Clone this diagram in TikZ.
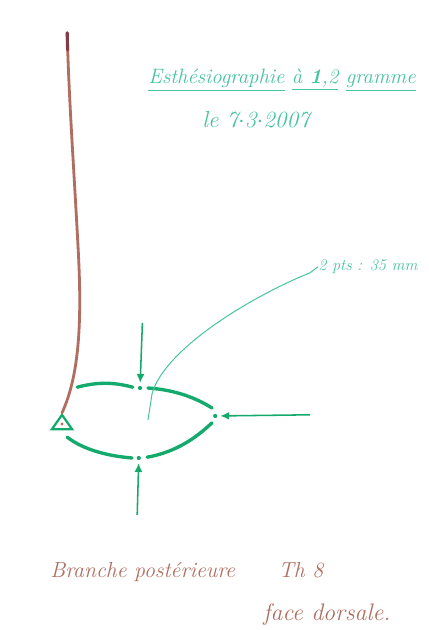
\documentclass[tikz,border=0pt]{standalone}
\usepackage{tikz}
\usetikzlibrary{arrows.meta, positioning, calc, shapes.geometric}

\definecolor{inkgreen}{RGB}{20,170,110}
\definecolor{lightgreen}{RGB}{70,195,160}
\definecolor{inkbrown}{RGB}{175,110,95}
\definecolor{darkbrown}{RGB}{130,60,70}

\begin{document}
\begin{tikzpicture}[
		>=Latex,
		font=\itshape,
		pen/.style={draw=inkgreen, line width=2.4pt, line cap=round},
		pointer/.style={draw=inkgreen, line width=1.1pt, -{Latex[length=2.2mm, width=2mm]}, shorten >=2pt},
		dot/.style={circle, fill=inkgreen, inner sep=0pt, minimum size=3pt},
		greentext/.style={text=lightgreen, anchor=west, inner sep=0pt},
		browntext/.style={text=inkbrown, anchor=west, inner sep=0pt}
		]
		
		\useasboundingbox[fill=white] (0,0) rectangle (10.7,15.75);
		
		% =========================================================
		% 1. Heading and date
		% =========================================================
		\node[greentext, font=\itshape\fontsize{14.8}{17}\selectfont] (Title) at (3.7,13.75)
			{\underline{Esthésiographie} \underline{à \textbf{1},2} \underline{gramme}};
		\node[greentext, font=\itshape\fontsize{16.5}{18}\selectfont] (Date) at (5.05,12.75) {le 7$\cdot$3$\cdot$2007};
		
		% =========================================================
		% 2. Brown trunk ending in the triangle
		% =========================================================
		\node[draw=inkgreen, line width=1.6pt, inner sep=0pt,
			shape=isosceles triangle, isosceles triangle apex angle=70, shape border rotate=90,
			minimum width=0.45cm, minimum height=0.36cm] (Tri) at (1.55,5.15) {};
		\fill[inkbrown] (Tri.center) circle (1.2pt);
		\draw[inkbrown, line width=2pt, line cap=round]
			(1.68,14.93) .. controls (1.72,13.3) and (1.85,11.5) .. (1.95,9.6)
			.. controls (2.05,7.8) and (2.0,6.4) .. (Tri.apex);
		\draw[darkbrown, line width=2.2pt, line cap=round] (1.68,14.93) -- (1.69,14.5);
		
		% =========================================================
		% 3. The lens with its three points
		% =========================================================
		\node[dot] (dotT) at (3.5,6.05) {};
		\node[dot] (dotR) at (5.38,5.35) {};
		\node[dot] (dotB) at (3.47,4.3) {};
		
		\draw[pen] (1.93,6.07) .. controls (2.5,6.22) and (2.9,6.18) .. (3.32,6.07);
		\draw[pen] (3.7,6.05) .. controls (4.4,6.0) and (4.9,5.8) .. (5.3,5.55);
		\draw[pen] (5.3,5.18) .. controls (4.9,4.8) and (4.4,4.45) .. (3.68,4.32);
		\draw[pen] (3.3,4.3) .. controls (2.7,4.35) and (2.1,4.5) .. (1.68,4.82);
		
		% arrows pointing at the three points
		\coordinate (fromT) at (3.56,7.68);
		\coordinate (fromR) at (7.75,5.38);
		\coordinate (fromB) at (3.43,2.88);
		\draw[pointer] (fromT) -- (dotT);
		\draw[pointer] (fromR) -- (dotR);
		\draw[pointer] (fromB) -- (dotB);
		
		% =========================================================
		% 4. Distance label with its thin lead
		% =========================================================
		\node[greentext, font=\itshape\fontsize{11.5}{13}\selectfont] (Dist) at (7.95,9.08) {2 pts : 35 mm};
		\coordinate (leadEnd) at (3.7,5.25);
		\draw[lightgreen, line width=0.7pt] (Dist.west) -- ++(-0.2,-0.15)
			.. controls (6.2,8.3) and (4.1,7.0) .. (3.8,5.9) -- (leadEnd);
		
		% =========================================================
		% 5. Brown notes at the bottom
		% =========================================================
		\node[browntext, font=\itshape\fontsize{15.5}{17}\selectfont] (Branch) at (1.25,1.45) {Branche postérieure \hspace{0.9cm}Th 8};
		\node[browntext, font=\itshape\fontsize{17}{19}\selectfont] (Face) at (6.58,0.38) {face dorsale.};
	\end{tikzpicture}
\end{document}
